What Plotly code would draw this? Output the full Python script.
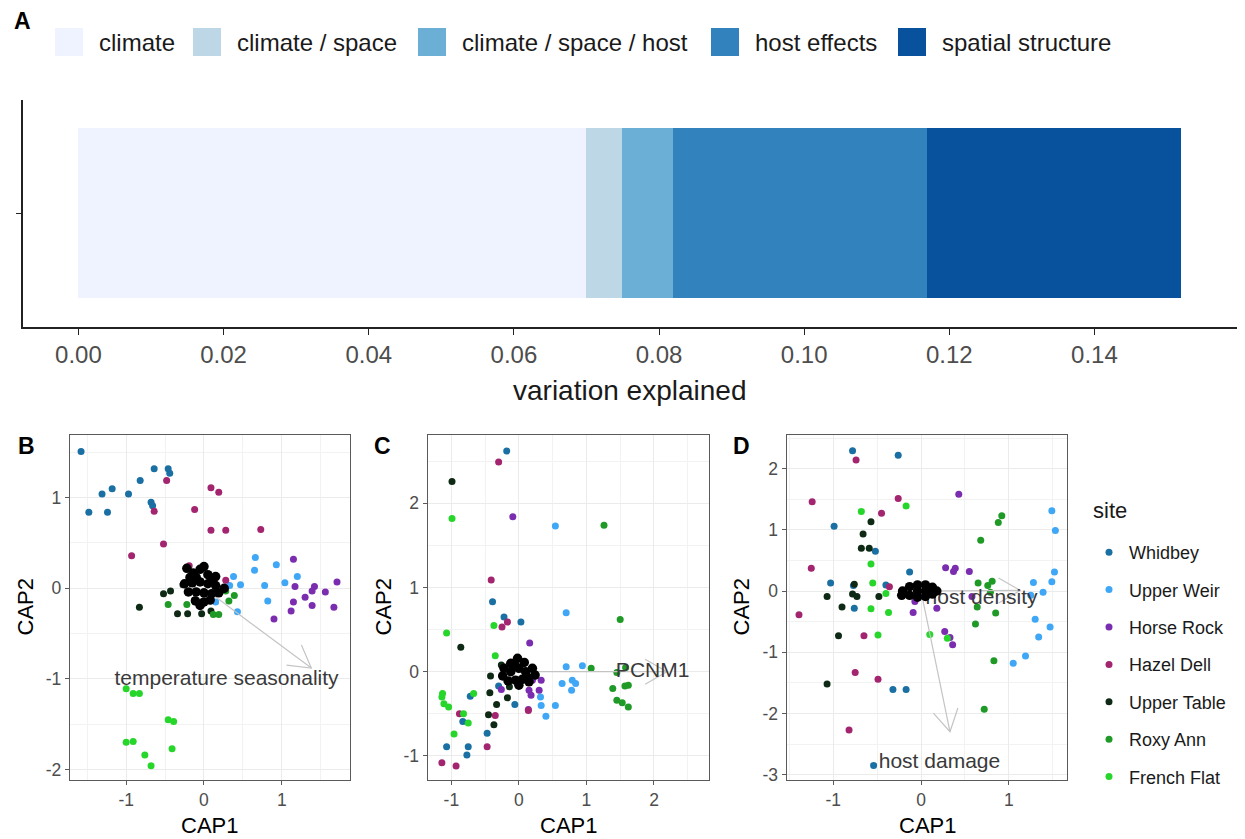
import math
import plotly.graph_objects as go

W, H = 1245, 839

# ---------------- DATA ----------------
# Panel A: variance partitioning
components = ["climate", "climate / space", "climate / space / host", "host effects", "spatial structure"]
component_values = [0.070, 0.005, 0.007, 0.035, 0.035]
a_ticks = [0.00, 0.02, 0.04, 0.06, 0.08, 0.10, 0.12, 0.14]
a_ticktext = ["0.00", "0.02", "0.04", "0.06", "0.08", "0.10", "0.12", "0.14"]

sites = ["Whidbey", "Upper Weir", "Horse Rock", "Hazel Dell", "Upper Table", "Roxy Ann", "French Flat"]

# Panel B (site scores, CAP1/CAP2)
B_Whidbey = [(-1.58, 1.51), (-1.48, 0.84), (-1.31, 1.04), (-1.18, 1.10), (-1.24, 0.84), (-0.97, 1.04),
             (-0.82, 1.19), (-0.64, 1.32), (-0.68, 0.95), (-0.66, 0.91), (-0.46, 1.32), (-0.44, 1.27)]
B_UpperWeir = [(0.66, 0.34), (0.65, 0.20), (0.93, 0.26), (1.20, 0.13), (1.04, 0.06), (0.78, 0.03),
               (0.82, -0.14), (0.38, 0.13), (0.33, 0.03), (0.47, 0.04), (0.15, -0.15), (0.43, -0.26)]
B_HorseRock = [(1.15, 0.32), (1.17, 0.02), (1.71, 0.07), (1.42, 0.02), (1.39, -0.03), (1.56, -0.04),
               (1.30, -0.10), (1.15, -0.15), (1.39, -0.19), (1.67, -0.21), (1.12, -0.25), (0.90, -0.34)]
B_HazelDell = [(-0.48, 1.19), (0.09, 1.11), (0.19, 1.06), (-0.12, 0.87), (-0.64, 0.85), (0.09, 0.64),
               (0.28, 0.64), (0.73, 0.65), (-0.52, 0.49), (-0.93, 0.36), (-0.19, 0.25), (0.28, 0.09)]
B_UpperTable = [(-0.83, -0.21), (-0.52, -0.06), (-0.43, -0.03), (-0.27, 0.04), (-0.34, -0.28), (-0.21, -0.28),
                (-0.03, -0.28), (0.09, -0.25), (0.00, -0.16), (-0.12, -0.13)]
B_RoxyAnn = [(-0.46, -0.18), (-0.22, -0.18), (0.12, -0.29), (0.19, -0.29), (0.32, -0.14), (0.39, -0.08), (0.28, -0.03)]
B_FrenchFlat = [(-1.00, -1.11), (-0.91, -1.16), (-0.83, -1.16), (-1.00, -1.70), (-0.91, -1.69), (-0.76, -1.84),
                (-0.68, -1.96), (-0.46, -1.45), (-0.39, -1.47), (-0.41, -1.77)]
B_species = [(-0.22, 0.22), (-0.14, 0.17), (-0.05, 0.21), (0.05, 0.15), (0.15, 0.13), (-0.25, 0.05), (-0.15, 0.06),
             (-0.05, 0.07), (0.05, 0.05), (0.15, 0.03), (0.26, 0.00), (-0.20, -0.04), (-0.10, -0.04), (0.00, -0.05),
             (0.10, -0.06), (0.19, -0.05), (-0.11, -0.14), (0.00, -0.15), (-0.05, -0.19), (0.08, -0.13),
             (0.00, 0.24), (-0.10, 0.12), (0.10, 0.10), (-0.18, 0.12)]
B_vectors = [("temperature seasonality", 1.38, -0.88, 0.29, -1.01)]
B_xticks, B_xticktext = [-1, 0, 1], ["-1", "0", "1"]
B_yticks, B_yticktext = [-2, -1, 0, 1], ["-2", "-1", "0", "1"]

# Panel C
C_Whidbey = [(-0.18, 2.62), (-0.39, 0.83), (-0.22, 0.65), (0.03, 0.59), (-0.72, -0.29), (-0.30, -0.17),
             (-0.06, -0.39), (-0.83, -0.59), (-0.47, -0.73), (-1.07, -0.89), (-0.75, -0.89), (-0.77, -0.99)]
C_UpperWeir = [(0.54, 1.73), (0.70, 0.70), (0.70, 0.06), (0.94, 0.07), (0.64, -0.14), (0.79, -0.10),
               (0.84, -0.14), (0.78, -0.22), (0.32, -0.30), (0.33, -0.40), (0.54, -0.40), (0.40, -0.53)]
C_HorseRock = [(-0.09, 1.84), (0.16, 0.34), (0.20, -0.10), (0.33, -0.10), (0.15, -0.22), (0.30, -0.22),
               (0.18, -0.28), (-0.26, -0.21), (0.14, -0.45)]
C_HazelDell = [(-0.30, 2.49), (-0.41, 1.09), (-0.25, 0.53), (-0.17, 0.59), (-0.88, -0.50), (-0.35, -0.52),
               (0.14, -0.46), (-0.47, -0.89), (-1.14, -1.08), (-0.93, -1.12)]
C_UpperTable = [(-0.99, 2.26), (-0.86, 0.29), (-0.26, 0.08), (-0.42, -0.05), (-0.43, -0.25), (-0.33, -0.39),
                (-0.17, -0.31), (-0.14, -0.18), (-0.45, -0.51), (-0.37, -0.63)]
C_RoxyAnn = [(1.26, 1.74), (1.50, 0.62), (1.07, 0.04), (1.45, -0.01), (1.58, 0.05), (1.39, -0.20),
             (1.62, -0.16), (1.57, -0.17), (1.45, -0.34), (1.53, -0.37), (1.62, -0.42)]
C_FrenchFlat = [(-0.99, 1.82), (-1.07, 0.46), (-0.37, 0.55), (-0.35, 0.19), (-1.13, -0.26), (-1.14, -0.30),
                (-1.11, -0.38), (-1.04, -0.42), (-0.67, -0.26), (-0.82, -0.50), (-0.75, -0.61), (-0.96, -0.74)]
C_species = [(-0.22, 0.04), (-0.12, 0.10), (-0.02, 0.16), (0.08, 0.11), (0.20, 0.04), (-0.24, -0.05),
             (-0.12, 0.00), (0.00, 0.04), (0.10, 0.00), (0.24, -0.04), (-0.16, -0.11), (-0.05, -0.10),
             (0.05, -0.09), (0.15, -0.12), (0.00, -0.16), (-0.06, 0.08), (0.12, -0.06)]
C_vectors = [("PCNM1", 2.19, 0.00, 1.98, 0.00)]
C_xticks, C_xticktext = [-1, 0, 1, 2], ["-1", "0", "1", "2"]
C_yticks, C_yticktext = [-1, 0, 1, 2], ["-1", "0", "1", "2"]

# Panel D
D_Whidbey = [(-0.78, 2.29), (-0.26, 2.22), (-0.99, 1.06), (-0.52, 0.65), (-0.13, 0.31), (-1.03, 0.13),
             (-0.77, 0.09), (-0.40, 0.10), (-0.76, -0.28), (-0.32, -1.61), (-0.17, -1.61), (-0.54, -2.85)]
D_UpperWeir = [(1.49, 1.31), (1.53, 0.99), (1.52, 0.31), (1.49, 0.15), (1.28, 0.14), (1.39, -0.02),
               (1.25, -0.07), (1.30, -0.46), (1.47, -0.59), (1.34, -0.75), (1.19, -1.06), (1.05, -1.18)]
D_HorseRock = [(0.43, 1.58), (0.28, 0.38), (0.39, 0.37), (0.37, 0.32), (0.55, 0.32), (-0.07, -0.17),
               (-0.09, -0.35), (0.18, -0.28), (0.27, -0.66), (0.33, -0.76), (0.36, -0.88), (0.58, -0.09)]
D_HazelDell = [(-0.74, 2.14), (-1.24, 1.46), (-0.26, 1.51), (-0.45, 1.27), (-1.25, 0.37), (-0.36, 0.07),
               (-1.39, -0.39), (-0.65, -0.73), (-0.75, -1.33), (-0.49, -1.44), (-0.82, -2.27)]
D_UpperTable = [(-0.57, 1.13), (-0.66, 0.93), (-0.68, 0.70), (-0.59, 0.70), (-0.76, 0.11), (-0.78, -0.05),
                (-0.73, -0.09), (-0.48, -0.09), (-1.07, -0.09), (-0.90, -0.26), (-0.94, -0.73), (-1.07, -1.52)]
D_RoxyAnn = [(0.92, 1.23), (0.88, 1.12), (0.68, 0.83), (0.65, 0.13), (0.76, 0.09), (0.81, 0.16),
             (0.79, -0.02), (0.64, -0.26), (0.85, -0.36), (0.62, -0.54), (0.83, -1.14), (0.72, -1.93)]
D_FrenchFlat = [(-0.68, 1.30), (-0.17, 1.39), (-0.57, 0.44), (-0.55, 0.13), (-0.40, -0.04), (-0.57, -0.29),
                (-0.37, -0.35), (-0.49, -0.72), (-0.21, -0.07), (0.10, -0.71), (0.30, -0.77)]
D_species = [(-0.21, 0.00), (-0.13, 0.07), (-0.13, -0.07), (-0.04, 0.10), (-0.04, -0.10), (0.05, 0.10),
             (0.05, -0.09), (0.13, 0.06), (0.13, -0.05), (0.18, 0.00), (-0.04, 0.00), (0.05, 0.00), (-0.22, -0.07)]
D_vectors = [("host density", 1.13, 0.01, 0.69, -0.13), ("host damage", 0.33, -2.30, 0.21, -2.80)]
D_xticks, D_xticktext = [-1, 0, 1], ["-1", "0", "1"]
D_yticks, D_yticktext = [-3, -2, -1, 0, 1, 2], ["-3", "-2", "-1", "0", "1", "2"]

# ---------------- STYLE ----------------
FONT = "Liberation Sans, Arial, sans-serif"
bar_colors = ["#EFF3FF", "#BDD7E7", "#6BAED6", "#3182BD", "#08519C"]
site_colors = ["#1A6FA3", "#3FA7F5", "#7B2DAF", "#A3246F", "#0E2A14", "#1F9A26", "#27D62A"]

def px(x):
    return x / W

def py(y):
    return 1 - y / H

panels = {
    "B": dict(xdom=(70, 350), ydom=(435, 780), xr=(-1.722, 1.877), yr=(-2.116, 1.692),
              sites=[B_Whidbey, B_UpperWeir, B_HorseRock, B_HazelDell, B_UpperTable, B_RoxyAnn, B_FrenchFlat],
              species=B_species, vectors=B_vectors, xt=(B_xticks, B_xticktext), yt=(B_yticks, B_yticktext),
              xa="x2", ya="y2", cap2x=25, letterx=16),
    "C": dict(xdom=(427.7, 708.7), ydom=(435, 780), xr=(-1.35, 2.81), yr=(-1.286, 2.811),
              sites=[C_Whidbey, C_UpperWeir, C_HorseRock, C_HazelDell, C_UpperTable, C_RoxyAnn, C_FrenchFlat],
              species=C_species, vectors=C_vectors, xt=(C_xticks, C_xticktext), yt=(C_yticks, C_yticktext),
              xa="x3", ya="y3", cap2x=383, letterx=372),
    "D": dict(xdom=(786.7, 1067.3), ydom=(435, 780), xr=(-1.53, 1.666), yr=(-3.088, 2.549),
              sites=[D_Whidbey, D_UpperWeir, D_HorseRock, D_HazelDell, D_UpperTable, D_RoxyAnn, D_FrenchFlat],
              species=D_species, vectors=D_vectors, xt=(D_xticks, D_xticktext), yt=(D_yticks, D_yticktext),
              xa="x4", ya="y4", cap2x=741, letterx=731),
}

fig = go.Figure()

# ---------------- Panel A ----------------
for name, val, col in zip(components, component_values, bar_colors):
    fig.add_trace(go.Bar(x=[val], y=[1], orientation="h", width=0.9, marker=dict(color=col, line=dict(width=0)),
                         name=name, showlegend=False, xaxis="x", yaxis="y", hoverinfo="skip"))

# manual legend for panel A
legend_key_x = [55, 193, 418, 711, 898]
for name, col, kx in zip(components, bar_colors, legend_key_x):
    fig.add_shape(type="rect", xref="paper", yref="paper", x0=px(kx), x1=px(kx + 28), y0=py(56), y1=py(28),
                  fillcolor=col, line=dict(width=0))
    fig.add_annotation(xref="paper", yref="paper", x=px(kx + 42), y=py(43), text=name, showarrow=False,
                       xanchor="left", yanchor="middle", font=dict(family=FONT, size=24, color="#1a1a1a"))

# ---------------- Panels B-D ----------------
ann = []
for key, p in panels.items():
    sx = (p["xdom"][1] - p["xdom"][0]) / (p["xr"][1] - p["xr"][0])
    sy = (p["ydom"][1] - p["ydom"][0]) / (p["yr"][1] - p["yr"][0])
    for site, pts, col in zip(sites, p["sites"], site_colors):
        fig.add_trace(go.Scatter(x=[a for a, b in pts], y=[b for a, b in pts], mode="markers",
                                 marker=dict(color=col, size=7, line=dict(width=0)), name=site,
                                 legendgroup=site, showlegend=(key == "B"), xaxis=p["xa"], yaxis=p["ya"]))
    # biplot arrows
    for label, vx, vy, tx, ty in p["vectors"]:
        th = math.atan2(vy * sy, vx * sx)
        L, ang = 25, math.radians(30)
        hx, hy = [], []
        for s in (1, -1):
            a = th + math.pi + s * ang
            hx.append(vx + L * math.cos(a) / sx)
            hy.append(vy + L * math.sin(a) / sy)
        fig.add_trace(go.Scatter(x=[0, vx, None, hx[0], vx, hx[1]], y=[0, vy, None, hy[0], vy, hy[1]],
                                 mode="lines", line=dict(color="#C4C4C4", width=1.2), showlegend=False,
                                 hoverinfo="skip", xaxis=p["xa"], yaxis=p["ya"]))
        fig.add_trace(go.Scatter(x=[tx], y=[ty], mode="text", text=[label],
                                 textfont=dict(family=FONT, size=21, color="#3a3a3a"), textposition="middle center",
                                 showlegend=False, hoverinfo="skip", xaxis=p["xa"], yaxis=p["ya"]))
    # species scores (dense black cloud)
    sp = p["species"]
    fig.add_trace(go.Scatter(x=[a for a, b in sp], y=[b for a, b in sp], mode="markers",
                             marker=dict(color="black", size=9.5, line=dict(width=0)), showlegend=False,
                             hoverinfo="skip", xaxis=p["xa"], yaxis=p["ya"]))
    # labels
    cx = (p["xdom"][0] + p["xdom"][1]) / 2
    cy = (p["ydom"][0] + p["ydom"][1]) / 2
    ann.append(dict(xref="paper", yref="paper", x=px(cx), y=py(825), text="CAP1", showarrow=False,
                    xanchor="center", yanchor="middle", font=dict(family=FONT, size=22, color="black")))
    ann.append(dict(xref="paper", yref="paper", x=px(p["cap2x"]), y=py(cy), text="CAP2", showarrow=False,
                    textangle=-90, xanchor="center", yanchor="middle", font=dict(family=FONT, size=22, color="black")))
    ann.append(dict(xref="paper", yref="paper", x=px(p["letterx"]), y=py(446), text="<b>%s</b>" % key,
                    showarrow=False, xanchor="left", yanchor="middle", font=dict(family=FONT, size=23, color="black")))

for a in ann:
    fig.add_annotation(**a)

fig.add_annotation(xref="paper", yref="paper", x=px(12), y=py(21), text="<b>A</b>", showarrow=False,
                   xanchor="left", yanchor="middle", font=dict(family=FONT, size=23, color="black"))
fig.add_annotation(xref="paper", yref="paper", x=px(630), y=py(390), text="variation explained", showarrow=False,
                   xanchor="center", yanchor="middle", font=dict(family=FONT, size=28, color="#1a1a1a"))
# legend title for the site legend
fig.add_annotation(xref="paper", yref="paper", x=px(1091), y=py(510), text="site", showarrow=False,
                   xanchor="left", yanchor="middle", font=dict(family=FONT, size=22, color="#1a1a1a"))

layout_axes = {}
layout_axes["xaxis"] = dict(domain=[px(23.3), px(1236.7)], range=[-0.0076, 0.1596], anchor="y",
                            showline=True, linecolor="#222", linewidth=1.6, ticks="outside", ticklen=6,
                            tickcolor="#222", tickwidth=1.3, tickvals=a_ticks, ticktext=a_ticktext,
                            tickfont=dict(family=FONT, size=24, color="#4D4D4D"), showgrid=False, zeroline=False)
layout_axes["yaxis"] = dict(domain=[py(326.7), py(100)], range=[0.4, 1.6], anchor="x",
                            showline=True, linecolor="#222", linewidth=1.6, ticks="outside", ticklen=6,
                            tickcolor="#222", tickwidth=1.3, tickvals=[1], ticktext=[""], showgrid=False, zeroline=False)
for key, p in panels.items():
    n = p["xa"][1:]
    common = dict(showline=True, mirror=True, linecolor="#5a5a5a", linewidth=1.3, ticks="outside", ticklen=4,
                  tickcolor="#5a5a5a", tickwidth=1, showgrid=True, gridcolor="#EBEBEB", gridwidth=1.3,
                  zeroline=False, tickfont=dict(family=FONT, size=17.5, color="#4D4D4D"),
                  minor=dict(dtick=0.5, tick0=0.5, showgrid=True, gridcolor="#F2F2F2", gridwidth=0.7, ticks=""))
    layout_axes["xaxis" + n] = dict(domain=[px(p["xdom"][0]), px(p["xdom"][1])], range=list(p["xr"]),
                                    anchor="y" + n, tickvals=p["xt"][0], ticktext=p["xt"][1], **common)
    layout_axes["yaxis" + n] = dict(domain=[py(p["ydom"][1]), py(p["ydom"][0])], range=list(p["yr"]),
                                    anchor="x" + n, tickvals=p["yt"][0], ticktext=p["yt"][1], **common)

fig.update_layout(
    width=W, height=H, margin=dict(l=0, r=0, t=0, b=0),
    template="none", paper_bgcolor="white", plot_bgcolor="white",
    barmode="stack", bargap=0,
    font=dict(family=FONT, color="#1a1a1a"),
    legend=dict(x=px(1089), y=py(534), xanchor="left", yanchor="top", bgcolor="rgba(0,0,0,0)",
                font=dict(family=FONT, size=18, color="#1a1a1a"), tracegroupgap=11,
                itemsizing="trace"),
    **layout_axes,
)

fig.write_html("out.html")
